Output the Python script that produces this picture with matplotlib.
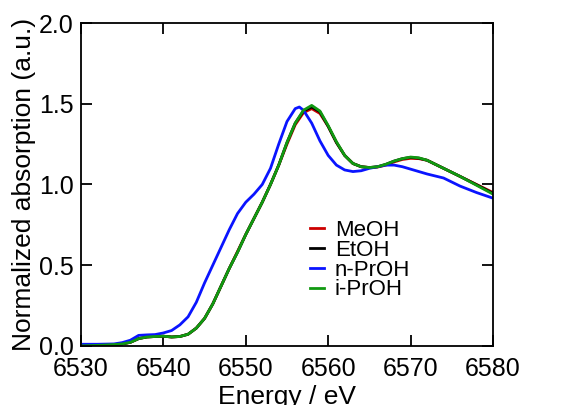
import numpy as np
import matplotlib
matplotlib.use("Agg")
import matplotlib.pyplot as plt

plt.rcParams['font.family'] = ['Liberation Sans', 'DejaVu Sans']

# energy grid (eV) shared by the three similar spectra
energy = [6530, 6532, 6534, 6535, 6536, 6537, 6538, 6539, 6540, 6541, 6542,
          6543, 6544, 6545, 6546, 6547, 6548, 6549, 6550, 6551, 6552, 6553,
          6554, 6555, 6556, 6557, 6558, 6559, 6560, 6561, 6562, 6563, 6564,
          6565, 6566, 6567, 6568, 6569, 6570, 6571, 6572, 6574, 6576, 6578,
          6580]

meoh = [0.00, 0.003, 0.008, 0.012, 0.022, 0.045, 0.055, 0.058, 0.060, 0.055,
        0.058, 0.072, 0.11, 0.17, 0.26, 0.37, 0.48, 0.585, 0.69, 0.79, 0.89,
        1.00, 1.12, 1.25, 1.37, 1.445, 1.47, 1.44, 1.36, 1.26, 1.18, 1.13,
        1.11, 1.105, 1.108, 1.12, 1.14, 1.155, 1.162, 1.16, 1.15, 1.10, 1.05,
        1.00, 0.95]

etoh = [0.00, 0.003, 0.008, 0.012, 0.022, 0.045, 0.055, 0.058, 0.060, 0.055,
        0.058, 0.072, 0.11, 0.17, 0.26, 0.37, 0.48, 0.58, 0.69, 0.79, 0.89,
        1.00, 1.12, 1.26, 1.38, 1.455, 1.48, 1.45, 1.36, 1.26, 1.18, 1.13,
        1.11, 1.105, 1.11, 1.125, 1.145, 1.16, 1.168, 1.163, 1.15, 1.10, 1.05,
        0.998, 0.945]

iproh = [0.00, 0.003, 0.008, 0.012, 0.022, 0.045, 0.055, 0.058, 0.060, 0.055,
         0.058, 0.072, 0.11, 0.17, 0.26, 0.37, 0.48, 0.58, 0.69, 0.79, 0.89,
         1.00, 1.12, 1.26, 1.38, 1.46, 1.49, 1.455, 1.365, 1.265, 1.18, 1.13,
         1.11, 1.105, 1.11, 1.125, 1.145, 1.16, 1.17, 1.165, 1.15, 1.10, 1.05,
         0.995, 0.94]

energy_np = [6530, 6532, 6534, 6535, 6536, 6537, 6538, 6539, 6540, 6541, 6542,
             6543, 6544, 6545, 6546, 6547, 6548, 6549, 6550, 6551, 6552, 6553,
             6554, 6555, 6556, 6556.5, 6557, 6558, 6559, 6560, 6561, 6562,
             6563, 6564, 6565, 6566, 6567, 6568, 6569, 6570, 6571, 6572, 6574,
             6576, 6578, 6580]
nproh = [0.01, 0.01, 0.012, 0.02, 0.035, 0.065, 0.068, 0.07, 0.08, 0.095, 0.13,
         0.18, 0.27, 0.39, 0.50, 0.61, 0.72, 0.82, 0.89, 0.94, 1.00, 1.10,
         1.25, 1.39, 1.47, 1.48, 1.46, 1.38, 1.27, 1.18, 1.12, 1.09, 1.08,
         1.085, 1.10, 1.11, 1.12, 1.12, 1.11, 1.095, 1.08, 1.065, 1.04, 0.99,
         0.95, 0.915]

fig = plt.figure(figsize=(5.78, 4.05), dpi=100)
ax = fig.add_axes([0.140, 0.146, 0.713, 0.797])

ax.plot(energy, meoh, color='#cc0000', lw=2.0, label='MeOH')
ax.plot(energy, etoh, color='black', lw=2.0, label='EtOH')
ax.plot(energy_np, nproh, color='#0a14ff', lw=2.0, label='n-PrOH')
ax.plot(energy, iproh, color='#119911', lw=2.0, label='i-PrOH')

ax.set_xlim(6530, 6580)
ax.set_ylim(0, 2.0)
ax.set_xticks(np.arange(6530, 6581, 10))
ax.set_yticks(np.arange(0, 2.01, 0.5))
ax.yaxis.set_major_formatter(matplotlib.ticker.FormatStrFormatter('%.1f'))
ax.tick_params(direction='in', length=8, width=1.3, top=True, right=True,
               labelsize=18)
ax.tick_params(axis='x', pad=8)
ax.tick_params(axis='y', pad=5)
for s in ax.spines.values():
    s.set_linewidth(1.3)

ax.set_xlabel('Energy / eV', fontsize=19, labelpad=3)
ax.set_ylabel('Normalized absorption (a.u.)', fontsize=19, labelpad=2)

ax.legend(loc='upper left', bbox_to_anchor=(0.53, 0.425), frameon=False,
          fontsize=16, handlelength=0.6, handletextpad=0.5, labelspacing=-0.05,
          borderpad=0)

plt.savefig('out.png', dpi=100)
